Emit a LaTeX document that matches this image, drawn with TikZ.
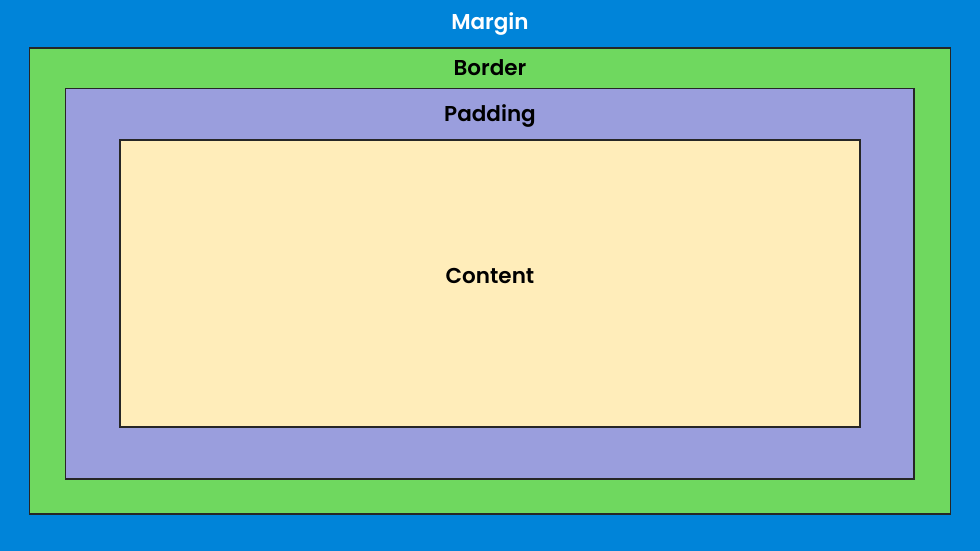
\documentclass[tikz,border=0pt]{standalone}
\usepackage{fontspec}
\setmainfont{Poppins}[BoldFont={Poppins SemiBold}]
\usepackage{tikz}
\usetikzlibrary{positioning}
\definecolor{marginblue}{HTML}{0084D9}
\definecolor{bordergreen}{HTML}{6FD85F}
\definecolor{paddingpurple}{HTML}{9A9EDD}
\definecolor{contentyellow}{HTML}{FFEDBA}
\tikzset{
  layer/.style   = {rectangle, draw=black!85, line width=1.2pt, inner sep=0pt},
  borderbox/.style  = {layer, fill=bordergreen},
  paddingbox/.style = {layer, fill=paddingpurple},
  contentbox/.style = {layer, fill=contentyellow},
  lbl/.style     = {font=\fontsize{21.5}{26}\selectfont\bfseries, anchor=base, inner sep=0pt},
}
\begin{document}
\begin{tikzpicture}[x=1pt, y=-1pt]
  \fill[marginblue] (0,0) rectangle (980,551);
  \useasboundingbox (0,0) rectangle (980,551);
  \node[borderbox,  minimum width=921pt, minimum height=466pt] (border)  at (490,281) {};
  \node[paddingbox, minimum width=848.5pt, minimum height=390.5pt] (padding) at (489.75,283.75) {};
  \node[contentbox, minimum width=740pt, minimum height=287pt] (content) at (490,283.5) {};
  \node[lbl, text=white] (marginlbl)  at (490,30)    {Margin};
  \node[lbl]             (borderlbl)  at (490,75.5)  {Border};
  \node[lbl]             (paddinglbl) at (490,121.7) {Padding};
  \node[lbl]             (contentlbl) at (490,283.3) {Content};
\end{tikzpicture}
\end{document}
